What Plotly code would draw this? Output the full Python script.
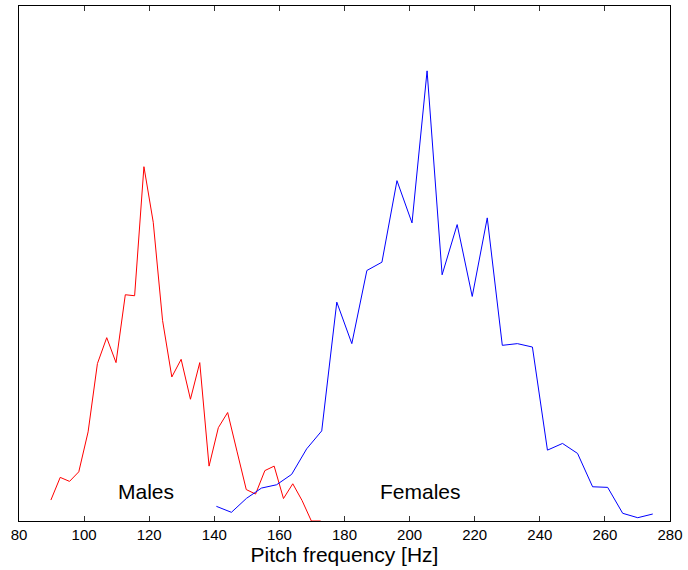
import plotly.graph_objects as go

# Pitch histogram (bin centres in Hz, heights in arbitrary count units)
male_hz = [89.8, 92.66, 95.52, 98.37, 101.23, 104.09, 106.95, 109.81, 112.66, 115.52,
           118.38, 121.24, 124.1, 126.95, 129.81, 132.67, 135.53, 138.39, 141.24, 144.1,
           146.96, 149.82, 152.68, 155.53, 158.39, 161.25, 164.11, 166.97, 169.82, 172.68]
male_count = [21, 43.7, 39.7, 49.3, 89.3, 157.7, 183.7, 158.7, 226.7, 225.7,
              355, 299.3, 201, 144.3, 162, 122, 158.7, 55, 93.5, 108.7,
              70, 31.5, 27, 50.5, 55, 22.5, 37.3, 20.5, 0, 0]

female_hz = [140.64, 145.26, 149.89, 154.51, 159.13, 163.76, 168.38, 173.0, 177.63, 182.25,
             186.87, 191.5, 196.12, 200.74, 205.37, 209.99, 214.61, 219.24, 223.86, 228.48,
             233.11, 237.73, 242.35, 246.98, 251.6, 256.22, 260.85, 265.47, 270.09, 274.71]
female_count = [14.7, 8.7, 22.7, 33, 36.3, 46.7, 72.3, 90.3, 219.3, 177.7,
                251, 259.3, 341, 298.7, 451, 246.7, 297, 225, 303.7, 176,
                177.7, 174.3, 71, 77.7, 67.7, 34.3, 33.7, 7.7, 3.3, 7]

x_ticks = [80, 100, 120, 140, 160, 180, 200, 220, 240, 260, 280]
labels = ["Males", "Females"]
label_pos = [(119.1, 30), (203.2, 30)]

FONT = "Liberation Sans, Arial, Helvetica, sans-serif"

fig = go.Figure()
fig.add_trace(go.Scatter(x=male_hz, y=male_count, mode="lines",
                         line=dict(color="#ff0000", width=1), showlegend=False))
fig.add_trace(go.Scatter(x=female_hz, y=female_count, mode="lines",
                         line=dict(color="#0000ff", width=1), showlegend=False))

for txt, (lx, ly) in zip(labels, label_pos):
    fig.add_annotation(x=lx, y=ly, text=txt, showarrow=False,
                       font=dict(family=FONT, size=21, color="black"),
                       xanchor="center", yanchor="middle")

fig.update_layout(
    width=688, height=570,
    margin=dict(l=19, r=15, t=5, b=49),
    paper_bgcolor="white", plot_bgcolor="white",
    font=dict(family=FONT, color="black"),
    xaxis=dict(range=[80, 280], tickvals=x_ticks, ticks="inside", ticklen=5,
               tickcolor="#333", tickwidth=1, showgrid=False, zeroline=False,
               showline=True, linecolor="black", linewidth=1.2, mirror="ticks",
               tickfont=dict(family=FONT, size=15, color="black"),
               title=dict(text="Pitch frequency [Hz]", standoff=1,
                          font=dict(family=FONT, size=21, color="black"))),
    yaxis=dict(range=[0, 516], showticklabels=False, ticks="", showgrid=False,
               zeroline=False, showline=True, linecolor="black", linewidth=1.2,
               mirror=True),
)

fig.write_html("out.html")
